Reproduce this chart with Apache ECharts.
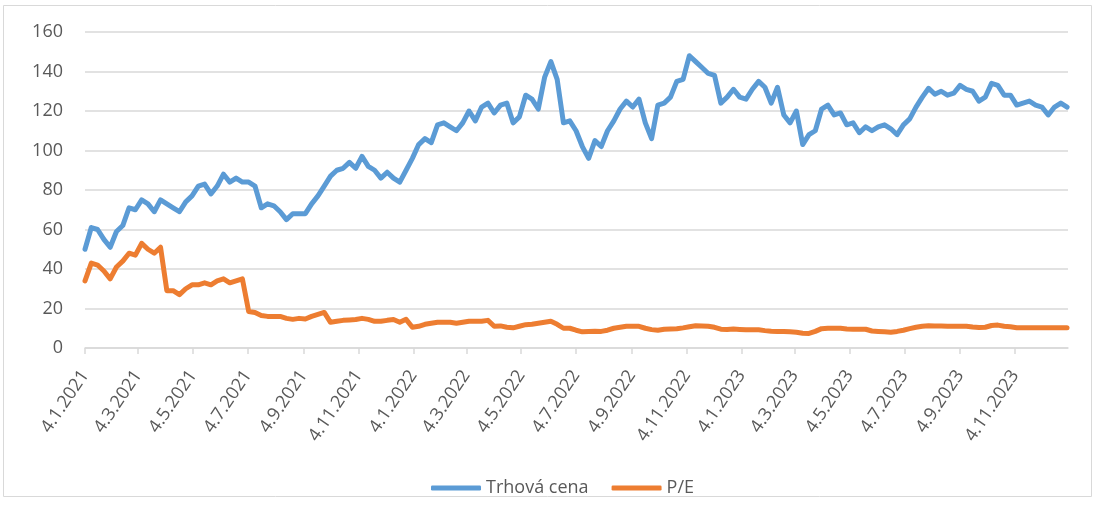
<!DOCTYPE html>
<html>
<head>
<meta charset="utf-8">
<script src="https://cdn.jsdelivr.net/npm/echarts@6/dist/echarts.min.js"></script>
<style>
html,body{margin:0;padding:0;background:#fff;}
#chart{width:1101px;height:508px;}
</style>
</head>
<body>
<div id="chart"></div>
<script>
const startDate = '2021-01-04';
const axisEndDate = '2024-01-02';
const seriesNames = ['Trhová cena', 'P/E'];
const price = [
  50,61,60,55,51,59,62,71,70,75,73,69,75,73,71,69,74,77,82,83,78,82,88,84,86,84,84,82,71,73,72,69,
  65,68,68,68,73,77,82,87,90,91,94,91,97,92,90,86,89,86,84,90,96,103,106,104,113,114,112,110,114,120,115,
  122,124,119,123,124,114,117,128,126,121,137,145,136,114,115,110,102,96,105,102,110,115,121,125,122,126,114,106,123,124,127,
  135,136,148,145,142,139,138,124,127,131,127,126,131,135,132,124,132,118,114,120,103,108,110,121,123,118,119,113,114,109,112,
  110,112,113,111,108,113,116,122,127,131.5,128.5,130,128,129,133,131,130,125,127,134,133,128,128,123,124,125,123,122,118,122,124,122
];
const pe = [
  34,43,42,39,35,41,44,48,47,53,50,48,51,29,29,27,30,32,32,33,32,34,35,33,34,35,18.5,18,16.5,16,16,16,
  15,14.5,15,14.7,16,17,18,13,13.5,14,14.2,14.4,15,14.5,13.5,13.5,14,14.4,13,14.5,10.5,11,12,12.5,13,13,13,12.5,13,13.5,13.5,
  13.5,14,11,11.2,10.5,10.2,11,11.8,12,12.5,13,13.5,12,10,10,9,8.2,8.4,8.5,8.4,9,10,10.5,11,11,11,10,9.3,9,9.5,9.6,
  9.7,10.2,10.8,11.3,11.2,11,10.5,9.5,9.4,9.6,9.4,9.2,9.2,9.2,8.8,8.5,8.4,8.4,8.2,8,7.5,7.4,8.4,9.8,10,10,10,9.6,9.5,9.5,9.5,
  8.6,8.4,8.2,8,8.4,9,9.8,10.5,11,11.3,11.2,11.2,11,11,11,11,10.6,10.4,10.5,11.4,11.6,11,10.8,10.3,10.3,10.2,10.2,10.2,10.2,10.2,10.3,10.2
];
const tickDates = [
  '2021-01-04','2021-03-04','2021-05-04','2021-07-04','2021-09-04','2021-11-04',
  '2022-01-04','2022-03-04','2022-05-04','2022-07-04','2022-09-04','2022-11-04',
  '2023-01-04','2023-03-04','2023-05-04','2023-07-04','2023-09-04','2023-11-04'
];
const yTicks = {min: 0, max: 160, interval: 20};

function ms(s){ const p = s.split('-').map(Number); return Date.UTC(p[0], p[1]-1, p[2]); }
const DAY = 86400000;
const t0 = ms(startDate);
const dates = price.map((_, i) => t0 + i * 7 * DAY);
const priceData = price.map((v, i) => [dates[i], v]);
const peData = pe.map((v, i) => [dates[i], v]);
const tickMs = tickDates.map(ms);

const FONT = '"Open Sans", "Liberation Sans", sans-serif';
const TXT = '#595959';
const GRID = '#D9D9D9';

const chart = echarts.init(document.getElementById('chart'), null, {renderer: 'canvas'});
chart.setOption({
  animation: false,
  backgroundColor: '#ffffff',
  textStyle: {fontFamily: FONT},
  graphic: [
    {type: 'rect', shape: {x: 3.5, y: 5.5, width: 1088, height: 491}, style: {fill: 'none', stroke: GRID, lineWidth: 1}, silent: true}
  ],
  grid: {left: 85, right: 33, top: 32, bottom: 160, containLabel: false},
  legend: {
    data: seriesNames,
    left: 426,
    top: 474,
    itemWidth: 50,
    itemHeight: 5,
    itemGap: 23,
    icon: 'roundRect',
    textStyle: {fontFamily: FONT, fontSize: 18, color: TXT}
  },
  xAxis: {
    type: 'value',
    min: t0,
    max: ms(axisEndDate),
    splitLine: {show: false},
    axisLine: {show: true, lineStyle: {color: GRID, width: 1.5}},
    axisTick: {show: true, customValues: tickMs, length: 6, lineStyle: {color: GRID, width: 1.5}},
    axisLabel: {
      customValues: tickMs,
      rotate: 56,
      margin: 24,
      fontFamily: FONT,
      fontSize: 18,
      color: TXT,
      hideOverlap: false,
      formatter: function (v) {
        const d = new Date(v);
        return d.getUTCDate() + '.' + (d.getUTCMonth() + 1) + '.' + d.getUTCFullYear();
      }
    }
  },
  yAxis: {
    type: 'value',
    min: yTicks.min,
    max: yTicks.max,
    interval: yTicks.interval,
    axisLine: {show: false},
    axisTick: {show: false},
    splitLine: {lineStyle: {color: GRID, width: 1.5}},
    axisLabel: {margin: 22, fontFamily: FONT, fontSize: 18, color: TXT}
  },
  series: [
    {
      name: seriesNames[0], type: 'line', data: priceData, showSymbol: false, symbol: 'none',
      lineStyle: {color: '#5B9BD5', width: 5, join: 'round', cap: 'round'},
      itemStyle: {color: '#5B9BD5'}
    },
    {
      name: seriesNames[1], type: 'line', data: peData, showSymbol: false, symbol: 'none',
      lineStyle: {color: '#ED7D31', width: 5, join: 'round', cap: 'round'},
      itemStyle: {color: '#ED7D31'}
    }
  ]
});
</script>
</body>
</html>
